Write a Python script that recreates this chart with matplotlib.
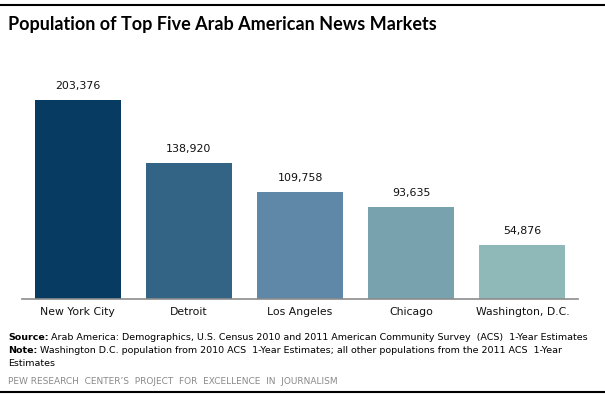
import matplotlib
matplotlib.use("Agg")
import matplotlib.pyplot as plt
from matplotlib.lines import Line2D

categories = ["New York City", "Detroit", "Los Angeles", "Chicago", "Washington, D.C."]
values = [203376, 138920, 109758, 93635, 54876]
colors = ["#083b62", "#336385", "#5f87a7", "#78a2ae", "#8fb8b8"]

title = "Population of Top Five Arab American News Markets"
source_label = "Source:"
source_text = " Arab America: Demographics, U.S. Census 2010 and 2011 American Community Survey  (ACS)  1-Year Estimates"
note_label = "Note:"
note_text = " Washington D.C. population from 2010 ACS  1-Year Estimates; all other populations from the 2011 ACS  1-Year"
note_text2 = "Estimates"
credit = "PEW RESEARCH  CENTER\u2019S  PROJECT  FOR  EXCELLENCE  IN  JOURNALISM"

W, H = 605, 396
fig = plt.figure(figsize=(W / 100, H / 100), dpi=100)
fig.patch.set_facecolor("white")

def fx(px):
    return px / W

def fy(py):
    return 1 - py / H

ax = fig.add_axes([fx(22), fy(299), fx(578) - fx(22), fy(60) - fy(299)])
x = list(range(len(categories)))
ax.bar(x, values, width=0.775, color=colors)
ax.set_xlim(-0.5, len(categories) - 0.5)
ax.set_ylim(0, 244350)
for s in ["top", "right", "left"]:
    ax.spines[s].set_visible(False)
ax.spines["bottom"].set_color("#8c8c8c")
ax.spines["bottom"].set_linewidth(1.2)
ax.set_yticks([])
ax.set_xticks(x)
ax.set_xticklabels(categories, fontsize=7.8, color="#111111", family="DejaVu Sans")
ax.tick_params(axis="x", length=0, pad=5.5)

for xi, v in zip(x, values):
    ax.annotate(f"{v:,}", (xi, v), xytext=(0, 6.5), textcoords="offset points",
                ha="center", va="bottom", fontsize=7.9, color="#111111", family="DejaVu Sans")

# rules
fig.add_artist(Line2D([0, 1], [fy(4.5), fy(4.5)], color="black", lw=1.5))
fig.add_artist(Line2D([0, 1], [fy(391.5), fy(391.5)], color="black", lw=1.5))

fig.text(fx(8), fy(30), title, fontsize=13, fontweight="bold", family="Lato",
         color="black", ha="left", va="baseline")

renderer = fig.canvas.get_renderer()

def mixed(y, bold, rest):
    t = fig.text(fx(8), fy(y), bold, fontsize=6.8, fontweight="bold", family="DejaVu Sans",
                 color="black", ha="left", va="baseline")
    bb = t.get_window_extent(renderer)
    fig.text(bb.x1 / W, fy(y), rest, fontsize=6.8, family="DejaVu Sans",
             color="black", ha="left", va="baseline")

mixed(340, source_label, source_text)
mixed(353, note_label, note_text)
fig.text(fx(8), fy(366), note_text2, fontsize=6.8, family="DejaVu Sans",
         color="black", ha="left", va="baseline")
fig.text(fx(8), fy(384), credit, fontsize=6.5, family="DejaVu Sans",
         color="#8a8a8a", ha="left", va="baseline")

fig.savefig("out.png", dpi=100, facecolor="white")
